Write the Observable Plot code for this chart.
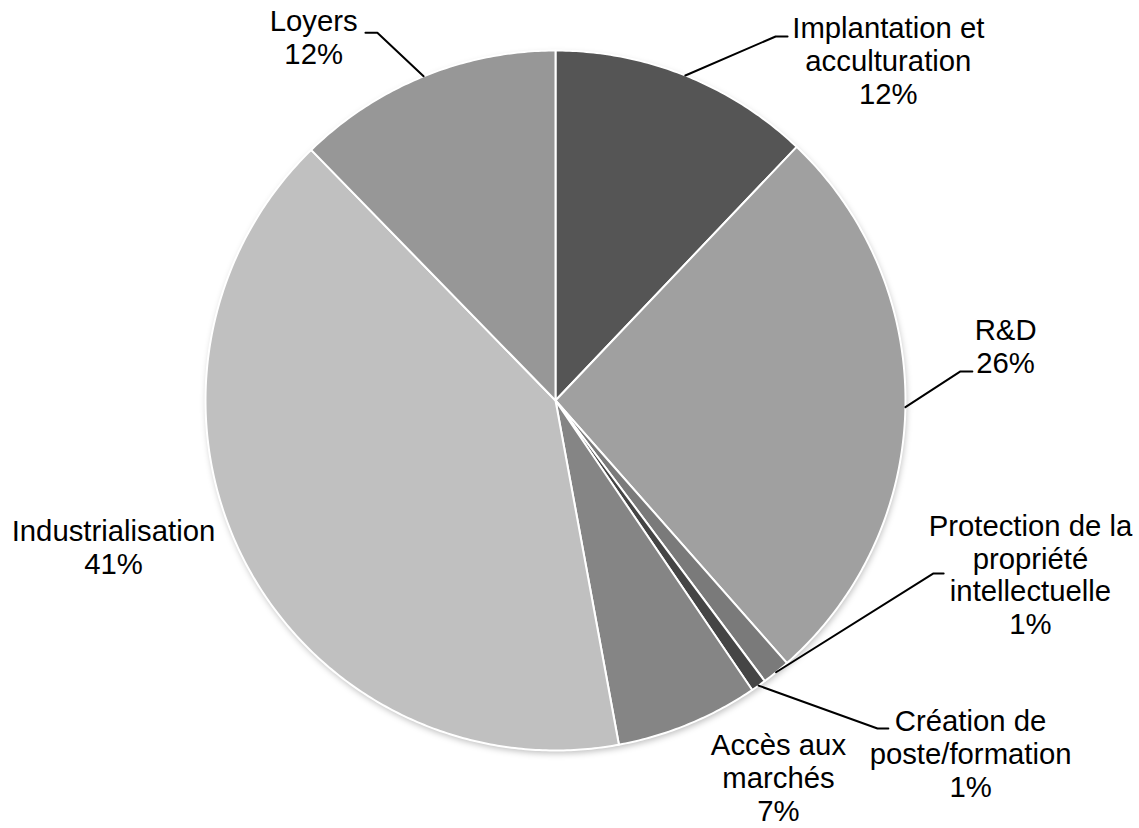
<!DOCTYPE html>
<html>
<head>
<meta charset="utf-8">
<script src="https://cdn.jsdelivr.net/npm/d3@7"></script>
<script src="https://cdn.jsdelivr.net/npm/@observablehq/plot@0.6"></script>
<style>
  body { margin: 0; background: #fff; }
  #chart { width: 1139px; height: 828px; }
</style>
</head>
<body>
<div id="chart"></div>
<script>
// Data (clockwise from 12 o'clock)
const categories = ["Implantation et\nacculturation", "R&D", "Protection de la\npropriété\nintellectuelle", "Création de\nposte/formation", "Accès aux\nmarchés", "Industrialisation", "Loyers"];
const values = [12.1, 26.4, 1.3, 0.7, 6.6, 40.6, 12.3];
const pctLabels = ["12%", "26%", "1%", "1%", "7%", "41%", "12%"];
const colors = ["#555555", "#a0a0a0", "#7a7a7a", "#454545", "#858585", "#c0c0c0", "#979797"];

// Label layout (in pie-radius units, centre = 0,0)
const labelX = [0.951, 1.286, 1.357, 1.186, 0.637, -1.263, -0.691];
const labelY = [0.971, 0.156, -0.497, -1.009, -1.078, -0.419, 1.039];
// Leader elbows (null = no leader)
const elbowX = [0.629, 1.157, 1.080, 0.920, null, null, -0.509];
const elbowY = [1.040, 0.083, -0.494, -0.937, null, null, 1.051];
const elbowEndX = [0.663, 1.191, 1.109, 0.951, null, null, -0.543];

const pie = d3.pie().sort(null).value(d => d)(values);

// slice polygons
const poly = [];
pie.forEach((a, i) => {
  poly.push({k: i, x: 0, y: 0, c: colors[i]});
  const n = Math.max(4, Math.ceil((a.endAngle - a.startAngle) / 0.01));
  for (let j = 0; j <= n; j++) {
    const t = a.startAngle + (a.endAngle - a.startAngle) * j / n;
    poly.push({k: i, x: Math.sin(t), y: Math.cos(t), c: colors[i]});
  }
  poly.push({k: i, x: 0, y: 0, c: colors[i]});
});

// leader lines
const leaders = [];
pie.forEach((a, i) => {
  if (elbowX[i] == null) return;
  const m = (a.startAngle + a.endAngle) / 2;
  leaders.push({k: i, x: Math.sin(m), y: Math.cos(m)});
  leaders.push({k: i, x: elbowX[i], y: elbowY[i]});
  leaders.push({k: i, x: elbowEndX[i], y: elbowY[i]});
});

const labels = categories.map((c, i) => ({text: c + "\n" + pctLabels[i], x: labelX[i], y: labelY[i]}));

// shadow outline
const shadow = d3.range(0, 361, 2).map(d => ({x: Math.sin(d * Math.PI / 180), y: Math.cos(d * Math.PI / 180)}));

const plot = Plot.plot({
  width: 1139,
  height: 828,
  marginLeft: 205,
  marginRight: 234,
  marginTop: 50,
  marginBottom: 78,
  x: {domain: [-1, 1], axis: null},
  y: {domain: [-1, 1], axis: null},
  color: {type: "identity"},
  style: {fontFamily: "'Liberation Sans', Arial, sans-serif", background: "#fff"},
  marks: [
    Plot.line(shadow, {x: "x", y: "y", fill: "#000", fillOpacity: 0.25, stroke: "none", dy: 3, dx: 1, imageFilter: "blur(3px)"}),
    Plot.line(poly, {x: "x", y: "y", z: "k", fill: "c", stroke: "#fff", strokeWidth: 2, strokeLinejoin: "round", curve: "linear"}),
    Plot.line(leaders, {x: "x", y: "y", z: "k", stroke: "#000", strokeWidth: 2, curve: "linear"}),
    Plot.text(labels, {x: "x", y: "y", text: "text", fontSize: 29.3, lineHeight: 1.126, fill: "#000", textAnchor: "middle"})
  ]
});
document.getElementById("chart").appendChild(plot);
</script>
</body>
</html>
